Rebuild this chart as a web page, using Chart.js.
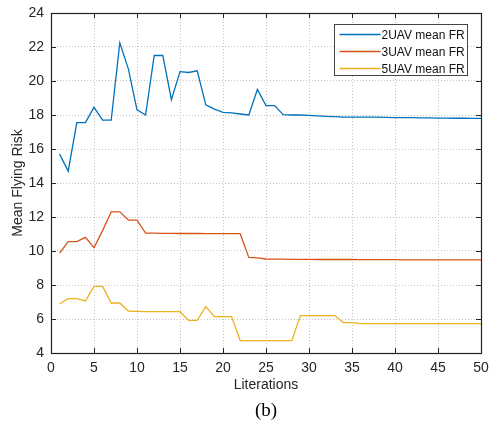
<!DOCTYPE html>
<html lang="en">
<head>
  <meta charset="UTF-8" />
  <title>Mean Flying Risk</title>
  <script src="https://cdn.jsdelivr.net/npm/chart.js"></script>
  <style>
    body { margin: 0; background: #fff; }
    #wrap { width: 493px; height: 424px; }
  </style>
</head>
<body>
  <div id="wrap"><canvas id="frChart" width="493" height="424"></canvas></div>

  <script>
    // iterations 1..50
    const iterations = [];
    for (let i = 1; i <= 50; i++) iterations.push(i);

    const seriesNames = ['2UAV mean FR', '3UAV mean FR', '5UAV mean FR'];
    const seriesColors = ['#0072BD', '#D95319', '#EDB120'];

    const fr2 = [15.7, 14.7, 17.55, 17.55, 18.45, 17.7, 17.7, 22.25, 20.7, 18.3,
                 18.0, 21.5, 21.5, 18.9, 20.55, 20.5, 20.6, 18.6, 18.35, 18.15,
                 18.12, 18.06, 18.0, 19.5, 18.55, 18.55, 18.02, 18.0, 18.0, 17.98,
                 17.95, 17.92, 17.9, 17.88, 17.88, 17.88, 17.88, 17.88, 17.86, 17.85,
                 17.84, 17.84, 17.83, 17.83, 17.82, 17.82, 17.81, 17.81, 17.8, 17.8];
    const fr3 = [9.88, 10.55, 10.55, 10.8, 10.2, 11.2, 12.3, 12.3, 11.82, 11.82,
                 11.05, 11.05, 11.04, 11.04, 11.03, 11.03, 11.03, 11.02, 11.02, 11.02,
                 11.02, 11.02, 9.62, 9.6, 9.53, 9.52, 9.52, 9.51, 9.51, 9.51,
                 9.5, 9.5, 9.5, 9.5, 9.5, 9.49, 9.49, 9.49, 9.49, 9.49,
                 9.48, 9.48, 9.48, 9.48, 9.48, 9.48, 9.48, 9.48, 9.48, 9.48];
    const fr5 = [6.9, 7.2, 7.2, 7.06, 7.92, 7.92, 6.94, 6.94, 6.47, 6.45,
                 6.43, 6.43, 6.43, 6.43, 6.43, 5.92, 5.92, 6.73, 6.14, 6.14,
                 6.14, 4.73, 4.73, 4.73, 4.73, 4.73, 4.73, 4.73, 6.2, 6.2,
                 6.2, 6.2, 6.2, 5.79, 5.79, 5.73, 5.73, 5.73, 5.73, 5.73,
                 5.73, 5.73, 5.73, 5.73, 5.73, 5.73, 5.73, 5.73, 5.73, 5.73];

    const xTicks = [0, 5, 10, 15, 20, 25, 30, 35, 40, 45, 50];
    const yTicks = [4, 6, 8, 10, 12, 14, 16, 18, 20, 22, 24];

    const FONT = 'Liberation Sans, Arial, sans-serif';

    function toPoints(vals) {
      return vals.map((v, i) => ({ x: iterations[i], y: v }));
    }

    // axes box, inward ticks, legend box and caption
    const matlabFrame = {
      id: 'matlabFrame',
      afterDatasetsDraw(chart) {
        const ctx = chart.ctx;
        const a = chart.chartArea;
        const xs = chart.scales.x, ys = chart.scales.y;
        ctx.save();
        ctx.strokeStyle = '#222';
        ctx.lineWidth = 1;
        ctx.beginPath();
        xTicks.forEach(t => {
          const px = Math.round(xs.getPixelForValue(t)) + 0.5;
          ctx.moveTo(px, a.bottom); ctx.lineTo(px, a.bottom - 5);
          ctx.moveTo(px, a.top); ctx.lineTo(px, a.top + 5);
        });
        yTicks.forEach(t => {
          const py = Math.round(ys.getPixelForValue(t)) + 0.5;
          ctx.moveTo(a.left, py); ctx.lineTo(a.left + 5, py);
          ctx.moveTo(a.right, py); ctx.lineTo(a.right - 5, py);
        });
        ctx.stroke();
        ctx.lineWidth = 1.2;
        ctx.strokeRect(Math.round(a.left) + 0.5, Math.round(a.top) + 0.5,
                       Math.round(a.right - a.left), Math.round(a.bottom - a.top));

        // legend
        const bx = Math.round(a.right) - 14 + 0.5, by = Math.round(a.top) + 11 + 0.5;
        const bw = 133, bh = 51;
        ctx.fillStyle = '#fff';
        ctx.fillRect(bx - bw, by, bw, bh);
        ctx.strokeStyle = '#444';
        ctx.lineWidth = 1;
        ctx.strokeRect(bx - bw, by, bw, bh);
        ctx.font = '12px ' + FONT;
        ctx.textBaseline = 'middle';
        ctx.textAlign = 'left';
        chart.data.datasets.forEach((ds, i) => {
          const ly = by + 10 + i * 17;
          ctx.strokeStyle = ds.borderColor;
          ctx.lineWidth = 1.3;
          ctx.beginPath();
          ctx.moveTo(bx - bw + 5, ly); ctx.lineTo(bx - bw + 46, ly);
          ctx.stroke();
          ctx.fillStyle = '#111';
          ctx.fillText(ds.label, bx - bw + 47, ly + 1);
        });

        // caption
        ctx.fillStyle = '#000';
        ctx.font = '19px Liberation Serif, Times New Roman, serif';
        ctx.textAlign = 'center';
        ctx.fillText('(b)', (a.left + a.right) / 2, 411);
        ctx.restore();
      }
    };

    new Chart(document.getElementById('frChart'), {
      type: 'line',
      data: {
        datasets: [
          { label: seriesNames[0], data: toPoints(fr2), borderColor: seriesColors[0] },
          { label: seriesNames[1], data: toPoints(fr3), borderColor: seriesColors[1] },
          { label: seriesNames[2], data: toPoints(fr5), borderColor: seriesColors[2] }
        ]
      },
      options: {
        responsive: false,
        animation: false,
        layout: { padding: { left: 0, top: 13, right: 12, bottom: 0 } },
        elements: {
          point: { radius: 0 },
          line: { borderWidth: 1.3, tension: 0, fill: false }
        },
        plugins: {
          legend: { display: false },
          tooltip: { enabled: false }
        },
        scales: {
          x: {
            type: 'linear',
            min: 0, max: 50,
            afterFit: s => { s.height = 71; s.paddingLeft = 0; s.paddingRight = 0; },
            afterBuildTicks: s => { s.ticks = xTicks.map(v => ({ value: v })); },
            grid: { color: '#c4c4c4', lineWidth: 1, drawTicks: false },
            border: { display: false, dash: [1, 2] },
            ticks: { color: '#262626', padding: 7, maxRotation: 0, font: { family: FONT, size: 14 } },
            title: {
              display: true, text: 'Literations', color: '#262626',
              padding: { top: 0, bottom: 30 },
              font: { family: FONT, size: 14 }
            }
          },
          y: {
            min: 4, max: 24,
            afterFit: s => { s.width = 51; s.paddingTop = 0; s.paddingBottom = 0; },
            afterBuildTicks: s => { s.ticks = yTicks.map(v => ({ value: v })); },
            grid: { color: '#c4c4c4', lineWidth: 1, drawTicks: false },
            border: { display: false, dash: [1, 2] },
            ticks: { color: '#262626', padding: 7, font: { family: FONT, size: 14 } },
            title: {
              display: true, text: 'Mean Flying Risk', color: '#262626',
              padding: { top: 10, bottom: 0 },
              font: { family: FONT, size: 14 }
            }
          }
        }
      },
      plugins: [matlabFrame]
    });
  </script>
</body>
</html>
